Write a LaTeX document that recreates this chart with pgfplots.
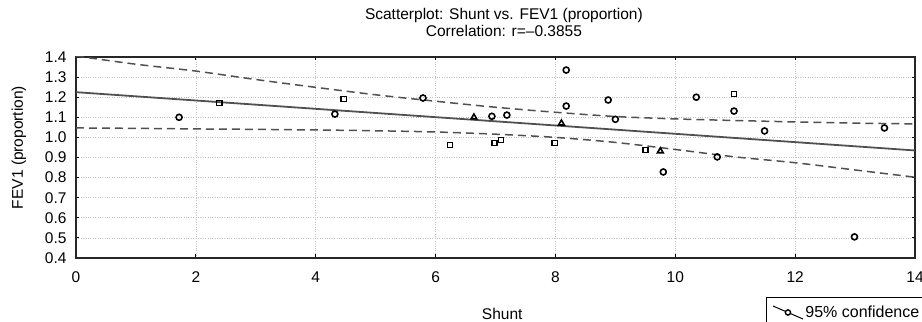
\documentclass[border=0pt]{standalone}
\usepackage{pgfplots}
\pgfplotsset{compat=1.18}
\usepackage{fontspec}
\setmainfont{Liberation Sans}
\definecolor{linegray}{RGB}{80,80,80}
\definecolor{gridgray}{RGB}{195,195,195}
\begin{document}
\begin{tikzpicture}
\useasboundingbox (0,0) rectangle (922bp,322bp);
\begin{axis}[
  at={(76bp,64bp)}, anchor=south west,
  scale only axis, width=839bp, height=201bp,
  xmin=0, xmax=14, ymin=0.4, ymax=1.4,
  xtick={0,2,...,14},
  ytick={0.4,0.5,...,1.41},
  yticklabel style={/pgf/number format/fixed,/pgf/number format/fixed zerofill,/pgf/number format/precision=1, xshift=-6bp},
  /pgf/number format/assume math mode=true,
  tick label style={font=\fontsize{15.5bp}{18bp}\selectfont},
  xticklabel style={yshift=-10bp},
  tick align=inside, major tick length=3.5bp,
  tick style={black, line width=1.2pt},
  axis line style={black!85, line width=1.6pt},
  grid=major,
  major grid style={gridgray, dotted, line width=0.7pt},
  title={Scatterplot: Shunt vs. FEV1 (proportion)\\Correlation: r=\textendash0.3855},
  title style={align=center, font=\fontsize{15.5bp}{17bp}\selectfont, at={(axis description cs:0.510,1.144)}, anchor=center},
  xlabel={Shunt},
  xlabel style={font=\fontsize{15.5bp}{18bp}\selectfont, at={(axis description cs:0.508,-0.279)}, anchor=center},
  ylabel={FEV1 (proportion)},
  ylabel style={font=\fontsize{15.5bp}{18bp}\selectfont, at={(axis description cs:-0.068,0.55)}, anchor=center},
  legend style={at={(axis description cs:0.8224,-0.194)}, anchor=north west, draw=black, line width=0.9pt,
    font=\fontsize{16bp}{18bp}\selectfont, inner xsep=6bp, inner ysep=6bp},
  legend cell align=left,
  clip=true,
]
% regression line
\addplot[forget plot, linegray, line width=1.8pt] coordinates {(0,1.225) (14,0.935)};
% upper 95% band
\addplot[forget plot, linegray, line width=1.5pt, dash pattern=on 8bp off 5bp, smooth] coordinates {
(0,1.405) (1,1.364) (2,1.330) (3,1.288) (4,1.249) (5,1.212) (6,1.180) (7,1.150) (8,1.125) (9,1.104) (10,1.092) (11,1.084) (12,1.077) (13,1.071) (14,1.067)};
% lower 95% band
\addplot[forget plot, linegray, line width=1.5pt, dash pattern=on 8bp off 5bp, smooth] coordinates {
(0,1.047) (1,1.045) (2,1.042) (3,1.040) (4,1.037) (5,1.033) (6,1.027) (7,1.016) (8,1.000) (9,0.975) (10,0.940) (11,0.903) (12,0.874) (13,0.838) (14,0.802)};
% circles
\addplot[forget plot, only marks, mark=o, mark size=3bp, black, mark options={line width=1.6pt}] coordinates {
(1.72,1.100) (4.32,1.116) (5.79,1.196) (6.94,1.105) (7.19,1.111) (8.18,1.335) (8.18,1.156) (8.88,1.186) (9.00,1.090) (10.35,1.200) (10.98,1.131) (11.49,1.032) (13.49,1.047) (10.70,0.903) (9.80,0.828) (12.99,0.505)};
% squares
\addplot[forget plot, only marks, mark=square, mark size=2.6bp, black, mark options={line width=1.6pt}] coordinates {
(2.39,1.171) (4.47,1.191) (6.24,0.962) (6.98,0.972) (7.09,0.987) (7.99,0.972) (10.98,1.216) (9.50,0.937)};
% triangles
\addplot[forget plot, only marks, mark=triangle, mark size=3.3bp, black, mark options={line width=1.6pt}] coordinates {
(6.64,1.100) (8.10,1.070) (9.75,0.932)};
\addlegendimage{legend image code/.code={
  \draw[black, line width=1.0pt] (0bp,6bp) -- (30bp,-7bp);
  \draw[black, line width=1.4pt, fill=white] (15bp,-0.5bp) circle (2.6bp);}}
\addlegendentry{95\% confidence}
\end{axis}
\end{tikzpicture}
\end{document}
